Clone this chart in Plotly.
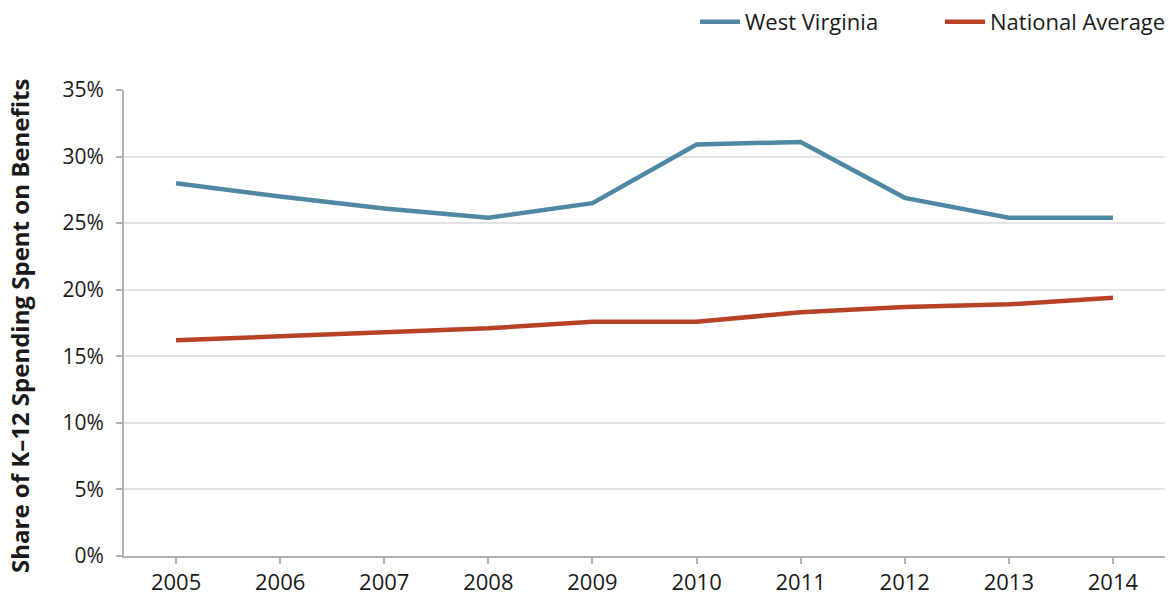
import plotly.graph_objects as go

years = ["2005", "2006", "2007", "2008", "2009", "2010", "2011", "2012", "2013", "2014"]
west_virginia = [28.0, 27.0, 26.1, 25.4, 26.5, 30.9, 31.1, 26.9, 25.4, 25.4]
national_average = [16.2, 16.5, 16.8, 17.1, 17.6, 17.6, 18.3, 18.7, 18.9, 19.4]
y_ticks = [0, 5, 10, 15, 20, 25, 30, 35]
y_labels = [f"{v}%" for v in y_ticks]

FONT = "Open Sans"
# the page body adds an 8px offset; the figure is sized to compensate
fig = go.Figure()
fig.add_trace(go.Scatter(x=years, y=west_virginia, mode="lines", name="West Virginia",
                         line=dict(color="#4f88a5", width=4.5), legend="legend"))
fig.add_trace(go.Scatter(x=years, y=national_average, mode="lines", name="National Average",
                         line=dict(color="#b84227", width=4.5), legend="legend2"))

leg_common = dict(orientation="h", xanchor="left", y=1.146, yanchor="middle",
                  font=dict(size=22), itemwidth=40, bgcolor="rgba(0,0,0,0)")

fig.update_layout(
    width=1167, height=588,
    margin=dict(l=116, r=10, t=82, b=40, autoexpand=False),
    paper_bgcolor="white", plot_bgcolor="white",
    font=dict(family=FONT, size=22, color="#1a1a1a"),
    showlegend=True,
    legend=dict(x=(695 - 124) / 1041, **leg_common),
    legend2=dict(x=(940 - 124) / 1041, **leg_common),
    xaxis=dict(type="category", range=[-0.5, 9.5], showgrid=False, automargin=False,
               showline=True, linecolor="#b3b3b3", linewidth=2,
               ticks="outside", ticklen=6, tickcolor="#b3b3b3", tickwidth=2,
               tickfont=dict(size=22)),
    yaxis=dict(range=[0, 35], tickvals=y_ticks, ticktext=y_labels, automargin=False,
               showgrid=True, gridcolor="#e3e3e3", gridwidth=2,
               showline=True, linecolor="#b3b3b3", linewidth=2,
               ticks="outside", ticklen=6, tickcolor="#b3b3b3", tickwidth=2,
               ticklabelstandoff=8,
               tickfont=dict(size=21), zeroline=False),
    annotations=[dict(text="<b>Share of K–12 Spending Spent on Benefits</b>",
                      xref="paper", yref="paper", x=-(124 - 20) / 1041, y=0.4936,
                      xanchor="center", yanchor="middle", textangle=-90,
                      showarrow=False, font=dict(size=24, color="#1a1a1a"))],
)

fig.write_html("out.html")
